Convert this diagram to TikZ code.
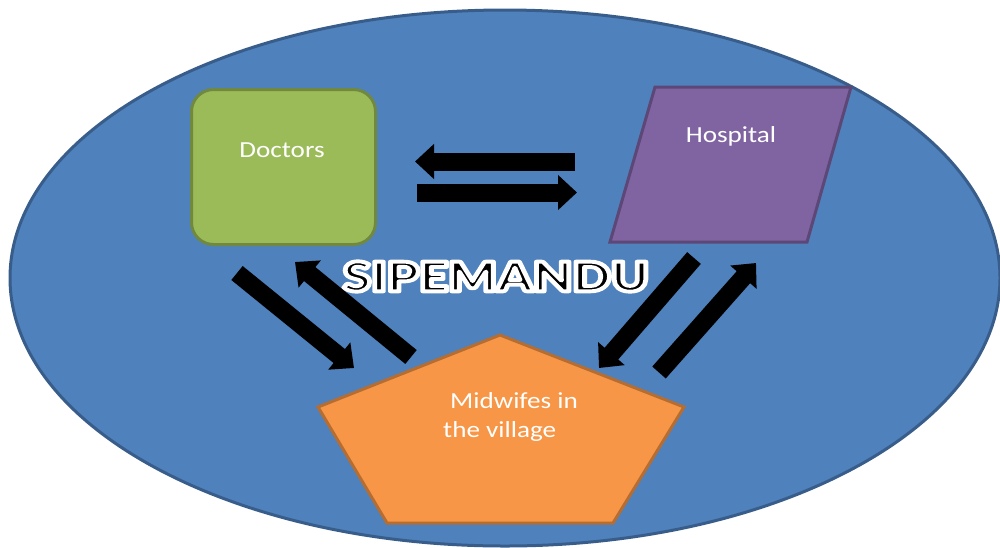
\documentclass[tikz,border=0pt]{standalone}
\usepackage{fontspec}
\setmainfont{Carlito}
\newfontfamily\titlefont{Lato Black}
\usetikzlibrary{arrows.meta,shapes.geometric}
\definecolor{ovalfill}{HTML}{4F81BD}
\definecolor{ovalline}{HTML}{385D8A}
\definecolor{docfill}{HTML}{9BBB59}
\definecolor{docline}{HTML}{71893F}
\definecolor{hospfill}{HTML}{8064A2}
\definecolor{hospline}{HTML}{5C4776}
\definecolor{midfill}{HTML}{F79646}
\definecolor{midline}{HTML}{B66D31}
\newcommand{\wide}[1]{\scalebox{1.18}[1]{#1}}
\makeatletter
% black letters with a white outline (fill + white stroke)
\newcommand{\haloed}[1]{\pgfsys@invoke{q 1 1 1 RG 4 w 1 j 2 Tr}#1\pgfsys@invoke{Q}}
\makeatother
\tikzset{
  oval/.style={ellipse, draw=ovalline, fill=ovalfill, line width=3pt, minimum width=990pt, minimum height=536pt, inner sep=0pt},
  docbox/.style={rectangle, rounded corners=22pt, draw=docline, fill=docfill, line width=3pt, minimum width=184pt, minimum height=155pt, inner sep=0pt},
  hospshape/.style={draw=hospline, fill=hospfill, line width=3pt, line join=miter},
  midshape/.style={draw=midline, fill=midfill, line width=3pt, line join=miter},
  lbl/.style={text=white, font=\fontsize{23}{29}\selectfont, inner sep=0pt},
  blockarrow/.style={draw=black, line width=18pt, -{Triangle[width=34pt,length=19pt]}}
}
\begin{document}
\begin{tikzpicture}[x=1pt,y=-1pt]
\useasboundingbox (0,0) rectangle (1000,547);
% background oval
\node[oval] (frame) at (505,278) {};
% Doctors
\node[docbox] (doctors) at (283.5,167) {};
\node[lbl, anchor=base] (doctorslabel) at (282,157) {\wide{Doctors}};
% Hospital
\coordinate (h1) at (655,87);
\coordinate (h2) at (851,87);
\coordinate (h3) at (807,242);
\coordinate (h4) at (610,242);
\draw[hospshape] (h1) -- (h2) -- (h3) -- (h4) -- cycle;
\node[lbl, anchor=base] (hospitallabel) at (731,142) {\wide{Hospital}};
% Midwifes
\coordinate (m1) at (500,335);
\coordinate (m2) at (684,407);
\coordinate (m3) at (613,523);
\coordinate (m4) at (387,523);
\coordinate (m5) at (318,407);
\draw[midshape] (m1) -- (m2) -- (m3) -- (m4) -- (m5) -- cycle;
\node[lbl, anchor=base west] (midlabela) at (450,408) {\wide{Midwifes in}};
\node[lbl, anchor=base west] (midlabelb) at (443,437) {\wide{the village}};
% title
\node[inner sep=0pt, text=black] (title) at (496,276.5) {\resizebox{306pt}{30pt}{\fontsize{42}{42}\selectfont\titlefont\haloed{SIPEMANDU}}};
% arrows between Doctors and Hospital
\coordinate (hdA) at (575,161.5);
\coordinate (hdB) at (415,161.5);
\coordinate (dhA) at (417,192.5);
\coordinate (dhB) at (577,192.5);
\draw[blockarrow] (hdA) -- (hdB);
\draw[blockarrow] (dhA) -- (dhB);
% arrows between Doctors and Midwifes
\coordinate (dmA) at (237,273);
\coordinate (dmB) at (354,368);
\coordinate (mdA) at (411,357);
\coordinate (mdB) at (295,262);
\draw[blockarrow] (dmA) -- (dmB);
\draw[blockarrow] (mdA) -- (mdB);
% arrows between Hospital and Midwifes
\coordinate (hmA) at (694,258);
\coordinate (hmB) at (599,368);
\coordinate (mhA) at (659,372.5);
\coordinate (mhB) at (756,263);
\draw[blockarrow] (hmA) -- (hmB);
\draw[blockarrow] (mhA) -- (mhB);
\end{tikzpicture}
\end{document}
